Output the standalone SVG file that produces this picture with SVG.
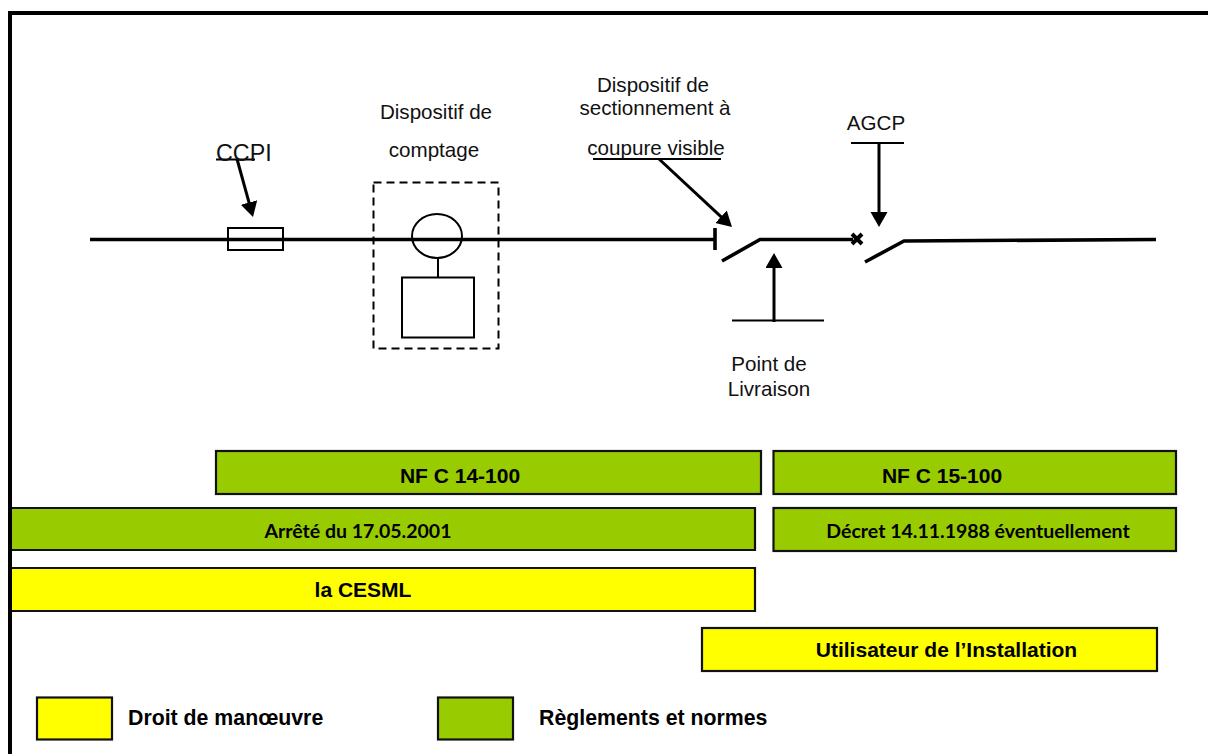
<svg xmlns="http://www.w3.org/2000/svg" width="1208" height="754" viewBox="0 0 1208 754">
<style>
.l{font-family:"Liberation Sans",Arial,sans-serif;font-size:20.6px;fill:#111}
.b{font-family:"Liberation Sans",Arial,sans-serif;font-size:21px;font-weight:700;fill:#000}
.k{font-size:21.3px}
.c{font-family:Lato,"Open Sans",sans-serif;font-size:19.5px;font-weight:700;fill:#000}
.m{text-anchor:middle}
.g{fill:#99CC00;stroke:#111;stroke-width:2.2}
.y{fill:#FFFF00;stroke:#111;stroke-width:2.2}
.t{fill:none;stroke:#000;stroke-width:2}
.h{fill:none;stroke:#000;stroke-width:3.6}
.a{fill:none;stroke:#000;stroke-width:3;marker-end:url(#arr)}
</style>
<defs>
<marker id="arr" markerUnits="userSpaceOnUse" markerWidth="18" markerHeight="18" refX="9" refY="8.500" orient="auto"><path d="M0 0L15 8.500L0 17Z" fill="#000"/></marker>
</defs>
<rect width="1208" height="754" fill="#fff"/>
<g id="frame"><path d="M10 754V13H1208" fill="none" stroke="#000" stroke-width="4"/></g>
<g id="connectors">
<path class="h" d="M90 239.500H715M715 228V250"/>
<path class="h" d="M722 261L760 239.500H853"/>
<path class="h" d="M865 262L904 241L1156 239.500"/>
<path class="t" d="M216 159.500H255M593 159H721M851 143H904M732 320.500H824"/>
<path class="a" d="M237 159L251.400 211.200"/>
<path class="a" d="M659 159L727.600 222.900"/>
<path class="a" d="M879 143V221"/>
<path class="a" d="M774 322V259"/>
</g>
<g id="fuse"><rect class="t" x="228" y="228" width="55" height="22"/></g>
<g id="comptage">
<rect x="373.500" y="182.500" width="125" height="166" fill="none" stroke="#000" stroke-width="2" stroke-dasharray="8 5"/>
<ellipse class="t" cx="437" cy="236" rx="25" ry="22"/>
<path class="t" d="M438 258V277"/>
<rect class="t" x="402" y="277.500" width="72" height="60"/>
</g>
<g id="cross"><path d="M852 234L862 244M862 234L852 244" stroke="#000" stroke-width="4" fill="none"/></g>
<g id="label-ccpi"><text class="l" x="216" y="161" style="font-size:23.300px">CCPI</text></g>
<g id="label-dispositif-comptage"><text class="l m" x="436" y="119">Dispositif de</text><text class="l m" x="434" y="157">comptage</text></g>
<g id="label-sectionnement"><text class="l m" x="653" y="92">Dispositif de</text><text class="l m" x="655" y="115">sectionnement à</text><text class="l m" x="656" y="155">coupure visible</text></g>
<g id="label-agcp"><text class="l m" x="876" y="130">AGCP</text></g>
<g id="label-livraison"><text class="l m" x="769" y="371">Point de</text><text class="l m" x="769" y="396">Livraison</text></g>
<g id="nfc14100"><rect class="g" x="216" y="451" width="545" height="43"/><text class="b m" x="460" y="483">NF C 14-100</text></g>
<g id="nfc15100"><rect class="g" x="773.500" y="451" width="402.500" height="43"/><text class="b m" x="942" y="483">NF C 15-100</text></g>
<g id="arrete"><path class="g" d="M12 508H755V550H12"/><text class="c m" x="358" y="538">Arrêté du 17.05.2001</text></g>
<g id="decret"><rect class="g" x="773.500" y="508" width="402.500" height="43"/><text class="c m" x="978" y="538">Décret 14.11.1988 éventuellement</text></g>
<g id="cesml"><path class="y" d="M12 568H755V611H12"/><text class="b m" x="363" y="597">la CESML</text></g>
<g id="utilisateur"><rect class="y" x="702" y="628" width="455" height="43"/><text class="b m" x="946.500" y="657">Utilisateur de l’Installation</text></g>
<g id="legend-droit"><rect class="y" x="37" y="697.500" width="75" height="42"/><text class="b k" x="128" y="725">Droit de manœuvre</text></g>
<g id="legend-regles"><rect class="g" x="438" y="697.500" width="75" height="42"/><text class="b k" x="539" y="725">Règlements et normes</text></g>
</svg>
